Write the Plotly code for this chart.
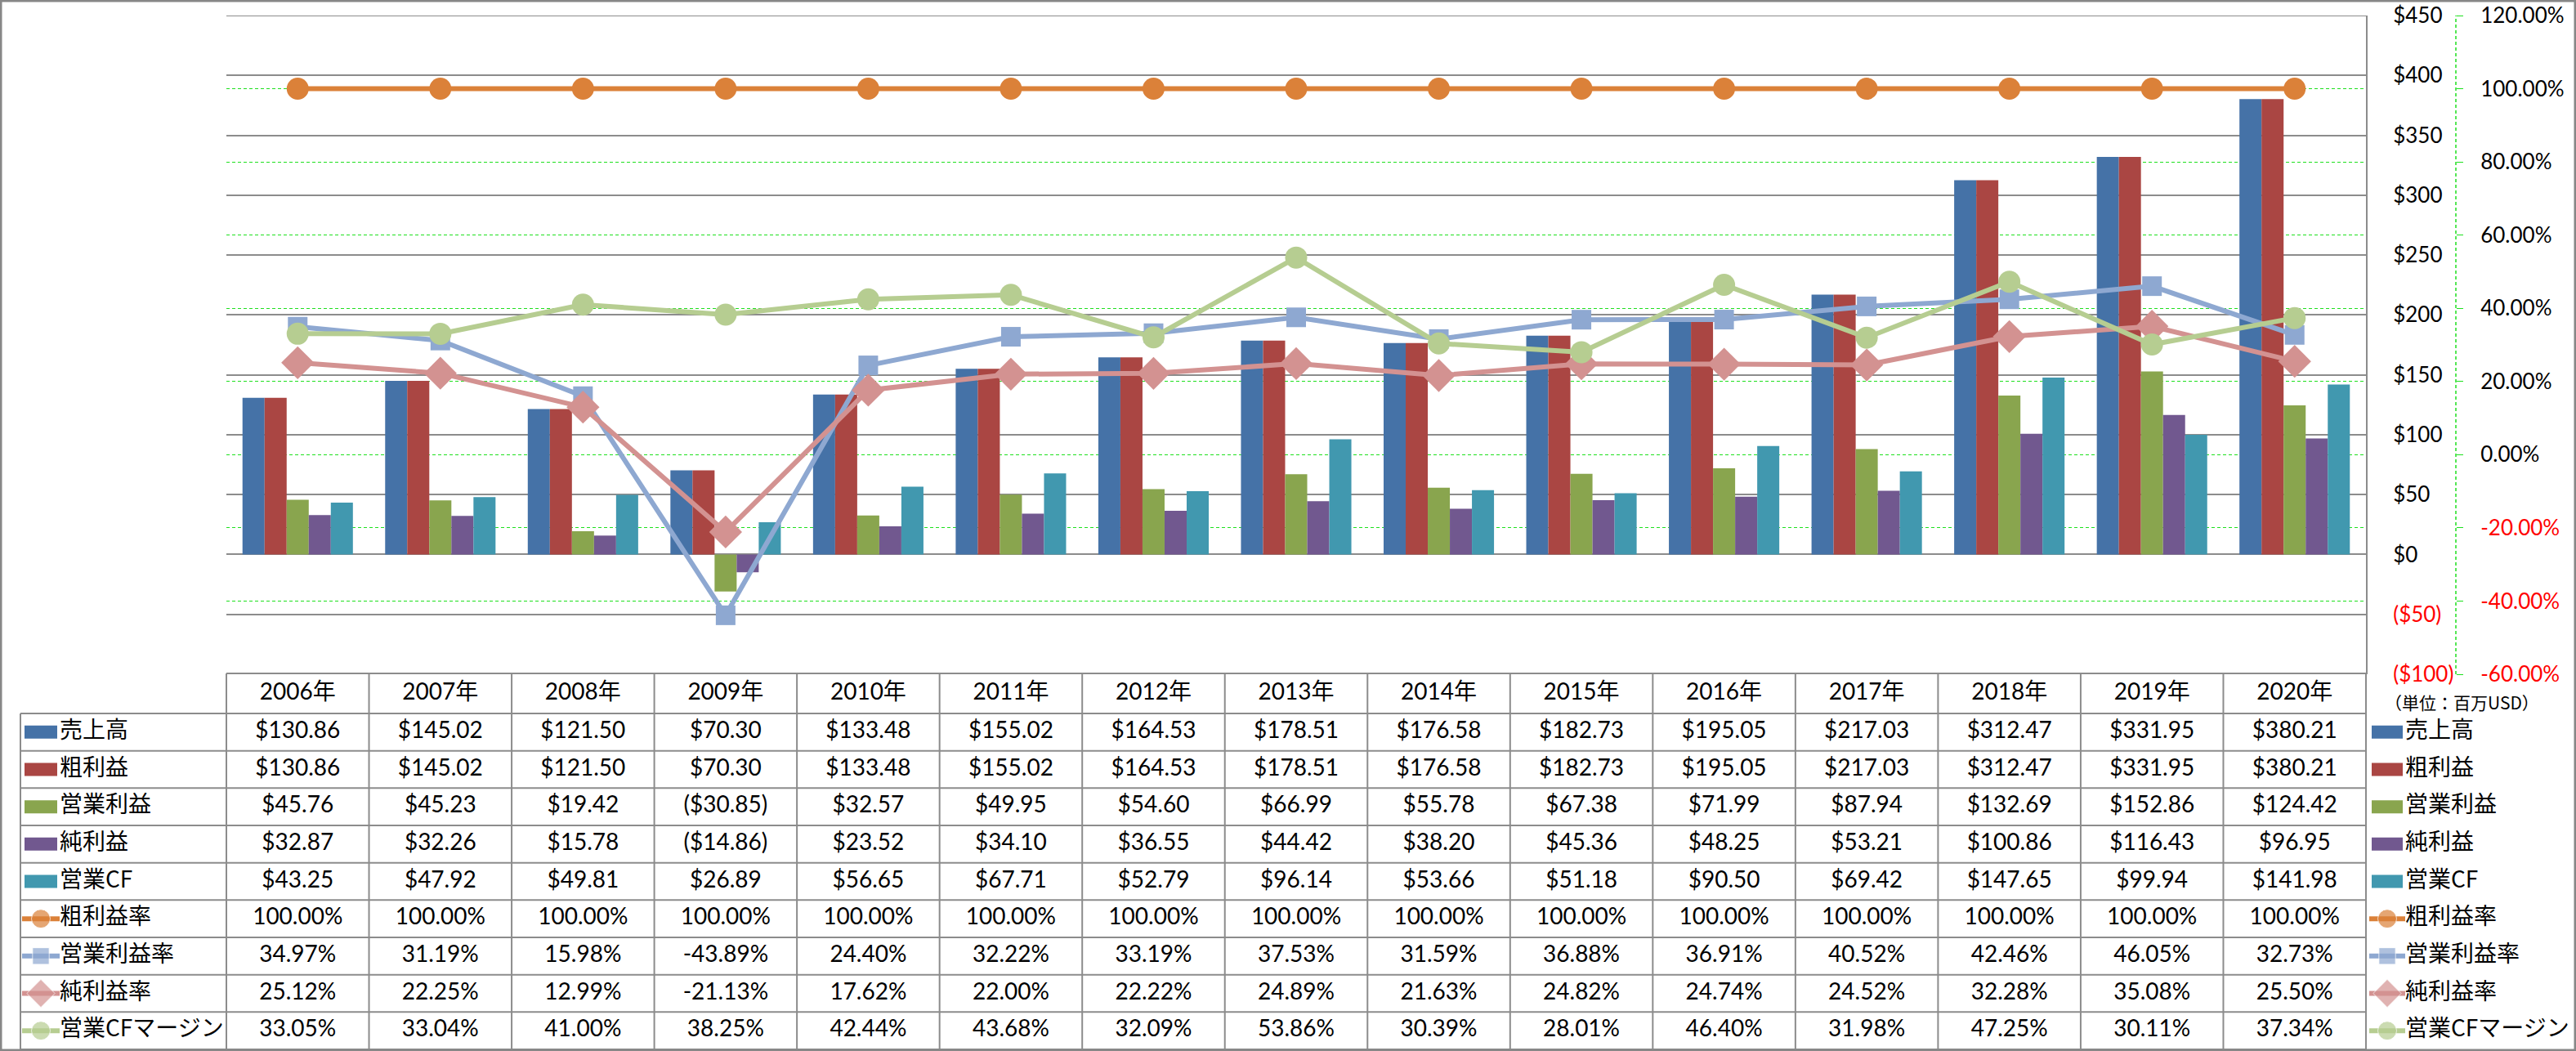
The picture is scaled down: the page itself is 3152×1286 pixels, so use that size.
import plotly.graph_objects as go

# ---------------- data ----------------
years = ["2006年", "2007年", "2008年", "2009年", "2010年", "2011年", "2012年", "2013年",
         "2014年", "2015年", "2016年", "2017年", "2018年", "2019年", "2020年"]
sales = [130.86, 145.02, 121.50, 70.30, 133.48, 155.02, 164.53, 178.51, 176.58, 182.73,
         195.05, 217.03, 312.47, 331.95, 380.21]
gross = [130.86, 145.02, 121.50, 70.30, 133.48, 155.02, 164.53, 178.51, 176.58, 182.73,
         195.05, 217.03, 312.47, 331.95, 380.21]
op_income = [45.76, 45.23, 19.42, -30.85, 32.57, 49.95, 54.60, 66.99, 55.78, 67.38,
             71.99, 87.94, 132.69, 152.86, 124.42]
net_income = [32.87, 32.26, 15.78, -14.86, 23.52, 34.10, 36.55, 44.42, 38.20, 45.36,
              48.25, 53.21, 100.86, 116.43, 96.95]
op_cf = [43.25, 47.92, 49.81, 26.89, 56.65, 67.71, 52.79, 96.14, 53.66, 51.18,
         90.50, 69.42, 147.65, 99.94, 141.98]
gross_margin = [100.00, 100.00, 100.00, 100.00, 100.00, 100.00, 100.00, 100.00,
                100.00, 100.00, 100.00, 100.00, 100.00, 100.00, 100.00]
op_margin = [34.97, 31.19, 15.98, -43.89, 24.40, 32.22, 33.19, 37.53, 31.59, 36.88,
             36.91, 40.52, 42.46, 46.05, 32.73]
net_margin = [25.12, 22.25, 12.99, -21.13, 17.62, 22.00, 22.22, 24.89, 21.63, 24.82,
              24.74, 24.52, 32.28, 35.08, 25.50]
cf_margin = [33.05, 33.04, 41.00, 38.25, 42.44, 43.68, 32.09, 53.86, 30.39, 28.01,
             46.40, 31.98, 47.25, 30.11, 37.34]

usd_ticks = [-100, -50, 0, 50, 100, 150, 200, 250, 300, 350, 400, 450]
pct_ticks = [-60, -40, -20, 0, 20, 40, 60, 80, 100, 120]
unit_note = "（単位：百万USD）"

bar_series = [
    ("売上高", sales, "#4572A7"),
    ("粗利益", gross, "#AA4643"),
    ("営業利益", op_income, "#89A54E"),
    ("純利益", net_income, "#71588F"),
    ("営業CF", op_cf, "#4198AF"),
]
line_series = [
    ("粗利益率", gross_margin, "#DB8139", "circle", 27),
    ("営業利益率", op_margin, "#8EA8D1", "square", 24),
    ("純利益率", net_margin, "#D39291", "diamond", 31),
    ("営業CFマージン", cf_margin, "#B6CD91", "circle", 27),
]

# ---------------- layout geometry (pixels) ----------------
W, H = 3152, 1286
PL, PR, PT, PB = 277, 2895, 19, 825
TT, HB, TB = 824, 873, 1284
LEGL = 25
PCTX = 3005
ncat = len(years)
colw = (PR - PL) / ncat
rowh = (TB - HB) / 9.0
hh = (HB - TT) / rowh

FONT_NUM = "Lato, 'Noto Sans CJK JP', sans-serif"
FONT_JP = "'Noto Sans CJK JP', Lato, sans-serif"
GRID = "#8C8C8C"
GREEN = "#1EE01E"

xs = list(range(ncat))
fig = go.Figure()

for name, vals, col in bar_series:
    fig.add_trace(go.Bar(x=xs, y=vals, name=name, marker=dict(color=col, line=dict(width=0)),
                         xaxis="x", yaxis="y", showlegend=False))

for name, vals, col, sym, ms in line_series:
    fig.add_trace(go.Scatter(x=xs, y=vals, name=name, mode="lines+markers",
                             line=dict(color=col, width=6),
                             marker=dict(symbol=sym, size=ms, color=col),
                             xaxis="x", yaxis="y3", showlegend=False, cliponaxis=False))

# ---------------- table ----------------
def fmt_usd(v):
    return "(${:,.2f})".format(-v) if v < 0 else "${:,.2f}".format(v)

def fmt_pct(v):
    return "{:.2f}%".format(v)

rows = [(n, [fmt_usd(v) for v in vals]) for n, vals, c in bar_series] + \
       [(n, [fmt_pct(v) for v in vals]) for n, vals, c, s, m in line_series]

tx, ty, tt = [], [], []
for i, y in enumerate(years):
    tx.append(i); ty.append(hh / 2); tt.append(y)
for k, (n, cells) in enumerate(rows):
    for i, c in enumerate(cells):
        tx.append(i); ty.append(-(k + 0.5)); tt.append(c)
fig.add_trace(go.Scatter(x=tx, y=ty, text=tt, mode="text", textposition="middle center",
                         textfont=dict(family=FONT_NUM, size=28, color="black"),
                         xaxis="x2", yaxis="y2", showlegend=False, cliponaxis=False,
                         hoverinfo="skip"))

shapes = []
line_style = dict(color=GRID, width=2)
# horizontal lines
shapes.append(dict(type="line", xref="x2", yref="y2", x0=-0.5, x1=ncat - 0.5, y0=hh, y1=hh, line=line_style))
xleft = -0.5 - (PL - LEGL) / colw
for k in range(0, 10):
    shapes.append(dict(type="line", xref="x2", yref="y2", x0=xleft, x1=ncat - 0.5, y0=-k, y1=-k, line=line_style))
# vertical lines
shapes.append(dict(type="line", xref="x2", yref="y2", x0=xleft, x1=xleft, y0=0, y1=-9, line=line_style))
for i in range(ncat + 1):
    shapes.append(dict(type="line", xref="x2", yref="y2", x0=i - 0.5, x1=i - 0.5, y0=hh, y1=-9, line=line_style))

# legend swatches (left in table, right outside)
legend_pos = [
    (-0.5 - (PL - 30) / colw, -0.5 - (PL - 70) / colw, -0.5 - (PL - 73) / colw),
    (ncat - 0.5 + (2902 - PR) / colw, ncat - 0.5 + (2940 - PR) / colw, ncat - 0.5 + (2943 - PR) / colw),
]
lab_x, lab_y, lab_t = [], [], []
for x0, x1, xt in legend_pos:
    for k, (n, vals, col) in enumerate(bar_series):
        yc = -(k + 0.5)
        shapes.append(dict(type="rect", xref="x2", yref="y2", x0=x0, x1=x1,
                           y0=yc - 8 / rowh, y1=yc + 8 / rowh, fillcolor=col, line=dict(width=0)))
        lab_x.append(xt); lab_y.append(yc); lab_t.append(n)
    for j, (n, vals, col, sym, ms) in enumerate(line_series):
        yc = -(len(bar_series) + j + 0.5)
        fig.add_trace(go.Scatter(x=[x0 - 3 / colw, (x0 + x1) / 2, x1 + 3 / colw], y=[yc, yc, yc],
                                 mode="lines+markers", line=dict(color=col, width=6),
                                 marker=dict(symbol=sym, size=[0, ms * 0.85, 0], color=col),
                                 xaxis="x2", yaxis="y2", showlegend=False, cliponaxis=False,
                                 hoverinfo="skip"))
        lab_x.append(xt); lab_y.append(yc); lab_t.append(n)
fig.add_trace(go.Scatter(x=lab_x, y=lab_y, text=lab_t, mode="text", textposition="middle right",
                         textfont=dict(family=FONT_JP, size=28, color="black"),
                         xaxis="x2", yaxis="y2", showlegend=False, cliponaxis=False,
                         hoverinfo="skip"))

# top gridline of the $ axis
shapes.append(dict(type="line", xref="paper", yref="y", x0=PL / W, x1=PR / W,
                   y0=usd_ticks[-1], y1=usd_ticks[-1], line=dict(color=GRID, width=2)))
# percent axis dashed line
shapes.append(dict(type="line", xref="paper", yref="y3", x0=PCTX / W, x1=PCTX / W,
                   y0=pct_ticks[0], y1=pct_ticks[-1], line=dict(color=GREEN, width=1.5, dash="4px,3px")))
# outer border
shapes.append(dict(type="rect", xref="paper", yref="paper", x0=0, x1=1, y0=0, y1=1,
                   line=dict(color="#878787", width=5), fillcolor="rgba(0,0,0,0)"))

usd_text = [("<span style='color:#FF0000'>(${})</span>".format(-v) if v < 0 else "${}".format(v)) for v in usd_ticks]
pct_text = [("<span style='color:#FF0000'>{:.2f}%</span>".format(v) if v < 0 else "{:.2f}%".format(v)) for v in pct_ticks]

fig.update_layout(
    width=W, height=H,
    margin=dict(l=0, r=0, t=0, b=0, autoexpand=False),
    paper_bgcolor="white", plot_bgcolor="rgba(0,0,0,0)",
    barmode="group", bargap=0.226, bargroupgap=0,
    showlegend=False,
    shapes=shapes,
    annotations=[dict(text=unit_note, xref="paper", yref="paper", x=2916 / W, y=1 - 859 / H,
                      xanchor="left", yanchor="middle", showarrow=False,
                      font=dict(family=FONT_JP, size=21, color="black"))],
    xaxis=dict(domain=[PL / W, PR / W], range=[-0.5, ncat - 0.5], showgrid=False,
               showticklabels=False, zeroline=False, showline=False, anchor="y"),
    yaxis=dict(domain=[1 - PB / H, 1 - PT / H], range=[usd_ticks[0], usd_ticks[-1]], side="right",
               anchor="x", tickvals=usd_ticks, ticktext=usd_text, showgrid=True, gridcolor=GRID,
               gridwidth=1.5, zeroline=False, showline=True, linecolor=GRID, linewidth=2,
               ticks="", ticklabelstandoff=26,
               tickfont=dict(family=FONT_NUM, size=26, color="black")),
    yaxis3=dict(overlaying="y", side="right", anchor="free", position=PCTX / W,
                range=[pct_ticks[0], pct_ticks[-1]], tickvals=pct_ticks, ticktext=pct_text,
                showgrid=True, gridcolor=GREEN, gridwidth=1.2, griddash="4px,3px",
                zeroline=False, showline=False, ticks="outside", ticklen=8, tickcolor=GREEN,
                tickwidth=1, ticklabelstandoff=16,
                tickfont=dict(family=FONT_NUM, size=26, color="black")),
    xaxis2=dict(domain=[0, 1], range=[-0.5 - PL / colw, ncat - 0.5 + (W - PR) / colw],
                visible=False, anchor="y2"),
    yaxis2=dict(domain=[0, 1 - 820 / H], range=[-9 - 2 / rowh, hh + 4 / rowh],
                visible=False, anchor="x2"),
)

fig.write_html("out.html", config={"displayModeBar": False},
               post_script="document.body.style.margin='0px';document.body.style.overflow='hidden';")
